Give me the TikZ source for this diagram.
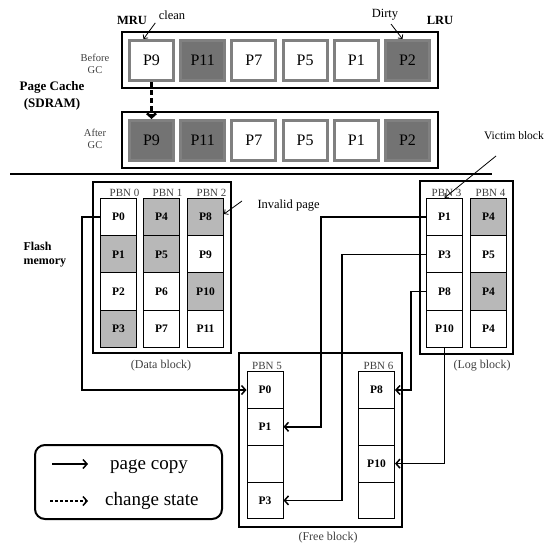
\documentclass[tikz,border=0pt]{standalone}
\usepackage{fontspec}
\setmainfont{Liberation Serif}
\usetikzlibrary{arrows.meta, positioning}

\begin{document}
\begin{tikzpicture}[x=1pt, y=-1pt,
    cachepage/.style={draw=black!50, line width=3pt, minimum width=44pt, minimum height=40pt, inner sep=0pt, font=\fontsize{16}{18}\selectfont},
    cleanpage/.style={cachepage, fill=white},
    dirtypage/.style={cachepage, fill=black!55},
    flashpage/.style={draw, line width=1pt, minimum width=36pt, minimum height=37.3pt, inner sep=0pt, font=\fontsize{11.5}{13}\selectfont\bfseries},
    validpage/.style={flashpage, fill=white},
    invalidpage/.style={flashpage, fill=black!28},
    pbn/.style={font=\fontsize{11}{12}\selectfont, text=black!75, inner sep=1pt},
    blockname/.style={font=\fontsize{12}{14}\selectfont, text=black!75},
    blockframe/.style={line width=2.5pt},
    copyarrow/.style={line width=1.5pt, -{Straight Barb[length=4pt, width=9pt]}},
    statearrow/.style={line width=2.5pt, dash pattern=on 5pt off 3pt, -{Straight Barb[length=4pt, width=9pt]}},
    pointer/.style={line width=0.8pt, -{Straight Barb[length=3pt, width=6pt]}},
    legendtext/.style={font=\fontsize{19}{21}\selectfont, anchor=base west, inner sep=0pt},
  ]
  \useasboundingbox (0,0) rectangle (546,543);

  % Page cache
  \node[font=\fontsize{13}{17}\selectfont\bfseries, align=center] (cache) at (52,96) {Page Cache\\(SDRAM)};
  \node[font=\fontsize{10.5}{12}\selectfont, text=black!75, align=center] (before) at (95,64) {Before\\GC};
  \node[font=\fontsize{10.5}{12}\selectfont, text=black!75, align=center] (after) at (95,139) {After\\GC};
  \node[font=\fontsize{12.5}{14}\selectfont\bfseries] (mru) at (132,20) {MRU};
  \node[font=\fontsize{12.5}{14}\selectfont\bfseries] (lru) at (440,20) {LRU};
  \node[font=\fontsize{12.5}{14}\selectfont] (clean) at (172,15) {clean};
  \node[font=\fontsize{12.5}{14}\selectfont] (dirty) at (385,15) {Dirty};

  \draw[blockframe] (122,32) rectangle (438,88);
  \draw[blockframe] (122,112) rectangle (438,168);
  \foreach \lbl/\kind [count=\i from 0] in {P9/cleanpage, P11/dirtypage, P7/cleanpage, P5/cleanpage, P1/cleanpage, P2/dirtypage}
    \node[\kind] (b\i) at (151.5+51.2*\i, 60.5) {\lbl};
  \foreach \lbl/\kind [count=\i from 0] in {P9/dirtypage, P11/dirtypage, P7/cleanpage, P5/cleanpage, P1/cleanpage, P2/dirtypage}
    \node[\kind] (a\i) at (151.5+51.2*\i, 140.5) {\lbl};

  \draw[pointer] (clean.south west) -- ([xshift=-8pt]b0.north);
  \draw[pointer] ([xshift=6pt]dirty.south) -- ([xshift=-5pt]b5.north);
  \draw[statearrow] (b0.south) -- (a0.north);

  \draw[line width=1.6pt] (10,174) -- (492,174);

  % Flash memory
  \node[font=\fontsize{12}{14}\selectfont\bfseries, align=left, anchor=west] (flash) at (20,255) {Flash\\memory};

  % Data block
  \draw[blockframe] (93,182) rectangle (231,353);
  \foreach \lbl/\kind [count=\r from 0] in {P0/validpage, P1/invalidpage, P2/validpage, P3/invalidpage}
    \node[\kind] (d0\r) at (118.5, 217+37.3*\r) {\lbl};
  \foreach \lbl/\kind [count=\r from 0] in {P4/invalidpage, P5/invalidpage, P6/validpage, P7/validpage}
    \node[\kind] (d1\r) at (161.5, 217+37.3*\r) {\lbl};
  \foreach \lbl/\kind [count=\r from 0] in {P8/invalidpage, P9/validpage, P10/invalidpage, P11/validpage}
    \node[\kind] (d2\r) at (205.5, 217+37.3*\r) {\lbl};
  \node[pbn, above=0.5pt of d00, xshift=6pt] (pbn0) {PBN 0};
  \node[pbn, above=0.5pt of d10, xshift=6pt] (pbn1) {PBN 1};
  \node[pbn, above=0.5pt of d20, xshift=6pt] (pbn2) {PBN 2};
  \node[blockname] (datablock) at (161,366) {(Data block)};

  \node[font=\fontsize{12.5}{14}\selectfont, anchor=west] (invalid) at (254,206) {Invalid page};
  \draw[pointer] ([xshift=-12pt, yshift=5pt]invalid.west) -- ([yshift=3pt]d20.east);

  % Log block
  \draw[blockframe] (420,181) rectangle (513,354);
  \foreach \lbl [count=\r from 0] in {P1, P3, P8, P10}
    \node[validpage] (l3\r) at (444.5, 217+37.3*\r) {\lbl};
  \foreach \lbl/\kind [count=\r from 0] in {P4/invalidpage, P5/validpage, P4/invalidpage, P4/validpage}
    \node[\kind] (l4\r) at (488.5, 217+37.3*\r) {\lbl};
  \node[pbn, above=0.5pt of l30, xshift=2pt] (pbn3) {PBN 3};
  \node[pbn, above=0.5pt of l40, xshift=2pt] (pbn4) {PBN 4};
  \node[blockname] (logblock) at (482,366) {(Log block)};

  \node[font=\fontsize{11.5}{14}\selectfont, anchor=east, inner sep=1pt] (victim) at (545,136) {Victim block};
  \coordinate (victimtail) at (496,156);
  \draw[pointer] (victimtail) -- (l30.north);

  % Free block
  \draw[blockframe] (239,353) rectangle (402,527);
  \foreach \lbl [count=\r from 0] in {P0, P1, {}, P3}
    \node[validpage, minimum height=36.8pt] (f5\r) at (265, 390+36.8*\r) {\lbl};
  \foreach \lbl [count=\r from 0] in {P8, {}, P10, {}}
    \node[validpage, minimum height=36.8pt] (f6\r) at (376.5, 390+36.8*\r) {\lbl};
  \node[pbn, above=0.5pt of f50, xshift=2pt] (pbn5) {PBN 5};
  \node[pbn, above=0.5pt of f60, xshift=2pt] (pbn6) {PBN 6};
  \node[blockname] (freeblock) at (328,538) {(Free block)};

  % Page copies
  \draw[copyarrow] (d00.west) -- ++(-18,0) |- (f50.west);
  \draw[copyarrow] (l30.west) -- ++(-105,0) |- (f51.east);
  \draw[copyarrow] (l31.west) -- ++(-84,0) |- (f53.east);
  \draw[copyarrow] (l32.west) -- ++(-15,0) |- (f60.east);
  \draw[copyarrow] (l33.south) |- (f62.east);

  % Legend
  \draw[line width=2pt, rounded corners=10pt] (35,445) rectangle (222,519);
  \coordinate (copyA) at (52,464);
  \coordinate (copyB) at (88,464);
  \draw[copyarrow] (copyA) -- (copyB);
  \node[legendtext] (copytext) at (110,469) {page copy};
  \coordinate (stateA) at (50,501);
  \coordinate (stateB) at (88,501);
  \draw[line width=1.5pt, dash pattern=on 3pt off 2pt, -{Straight Barb[length=4pt, width=9pt]}] (stateA) -- (stateB);
  \node[legendtext] (statetext) at (105,505) {change state};
\end{tikzpicture}
\end{document}
